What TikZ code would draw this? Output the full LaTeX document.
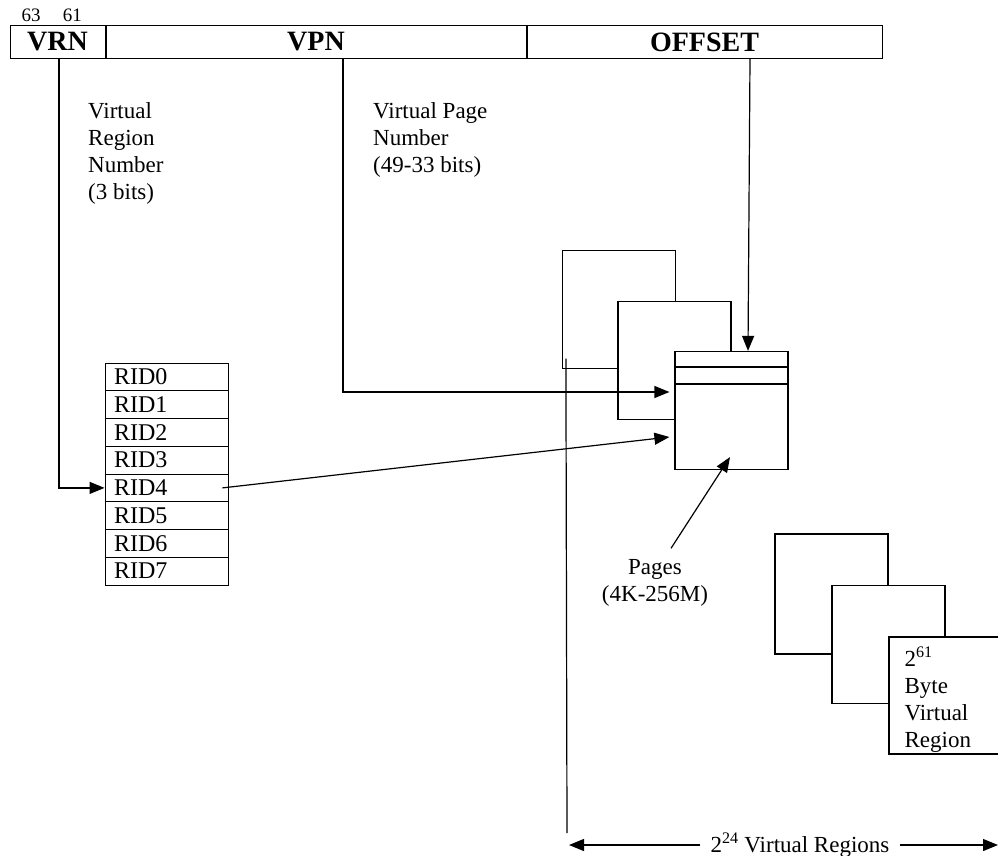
\documentclass[tikz,border=0pt]{standalone}
\usepackage{fontspec}
\setmainfont{Liberation Serif}
\usetikzlibrary{arrows.meta, positioning}

\begin{document}
\begin{tikzpicture}[x=1pt, y=-1pt,
  field/.style={draw, line width=1pt, inner sep=0pt, minimum height=33pt,
               font=\fontsize{28}{30}\selectfont\bfseries},
  ridrow/.style={draw, line width=0.9pt, inner xsep=9pt, inner ysep=0pt, text width=105pt,
               align=left, minimum height=27.75pt, font=\fontsize{24}{26}\selectfont},
  sheet/.style={draw, line width=1.2pt, fill=white, inner sep=0pt,
               minimum width=113pt, minimum height=118pt},
  lbl/.style={align=left, inner sep=0pt, font=\fontsize{23}{27}\selectfont},
  arr/.style={-{Triangle[length=15pt, width=12pt]}, line width=1.2pt}
]
  \useasboundingbox (0,0) rectangle (998,856);

  \node[field, minimum width=95pt] (vrn) at (57.5,42) {VRN};
  \node[field, minimum width=420pt, right=0pt of vrn] (vpn) {VPN};
  \node[field, minimum width=355pt, right=0pt of vpn] (offset) {OFFSET};
  \node[font=\fontsize{19}{21}\selectfont, inner sep=0pt] (b63) at (31,15) {63};
  \node[font=\fontsize{19}{21}\selectfont, inner sep=0pt, right=22pt of b63] (b61) {61};

  \node[lbl, anchor=north west] (vrnlbl) at (88,102) {Virtual\\Region\\Number\\(3 bits)};
  \node[lbl, anchor=north west] (vpnlbl) at (373,102) {Virtual Page\\Number\\(49-33 bits)};

  \foreach \i in {0,...,7}
    \node[ridrow] (rid\i) at (166.5,376.9+27.75*\i) {RID\i};

  \node[sheet] (pageA) at (619,309.5) {};
  \node[sheet] (pageB) at (674.5,360.5) {};
  \node[sheet] (pageC) at (731.5,410.5) {};
  \draw[line width=1.2pt] ([yshift=-16pt]pageC.north west) -- ([yshift=-16pt]pageC.north east);
  \draw[line width=1.2pt] ([yshift=-33pt]pageC.north west) -- ([yshift=-33pt]pageC.north east);
  \node[lbl, align=center] (pages) at (655,583) {Pages\\(4K-256M)};

  \node[sheet, minimum height=120pt] (regA) at (831.5,594) {};
  \node[sheet] (regB) at (888.5,644.5) {};
  \node[sheet, minimum height=117pt] (regC) at (945.5,695.5) {};
  \node[lbl, anchor=north west] (regtxt) at ([xshift=16pt, yshift=-10pt]regC.north west)
    {2\textsuperscript{61}\\Byte\\Virtual\\Region};

  \node[lbl, inner xsep=10pt] (span) at (800,845) {2\textsuperscript{24} Virtual Regions};
  \coordinate (spanL) at (569,845);
  \coordinate (spanR) at (998,845);
  \coordinate (spanbot) at (567,833);

  \draw[arr] ([xshift=1.5pt]vrn.south) |- (rid4.west);
  \draw[arr] ([xshift=27pt]vpn.south) |- ([xshift=-5pt, yshift=18.5pt]pageC.west);
  \draw[arr] ([xshift=45.5pt]offset.south) -- ([xshift=16.5pt]pageC.north);
  \draw[arr] ([xshift=-6pt]rid4.east) -- ([xshift=-5pt, yshift=-26.5pt]pageC.west);
  \draw[arr] ([xshift=16pt, yshift=11pt]pages.north) -- ([xshift=-1.5pt, yshift=13pt]pageC.south);
  \draw[line width=1.2pt] ([xshift=4pt, yshift=10.5pt]pageA.south west) -- (spanbot);
  \draw[arr] (span.west) -- (spanL);
  \draw[arr] (span.east) -- (spanR);
\end{tikzpicture}
\end{document}
